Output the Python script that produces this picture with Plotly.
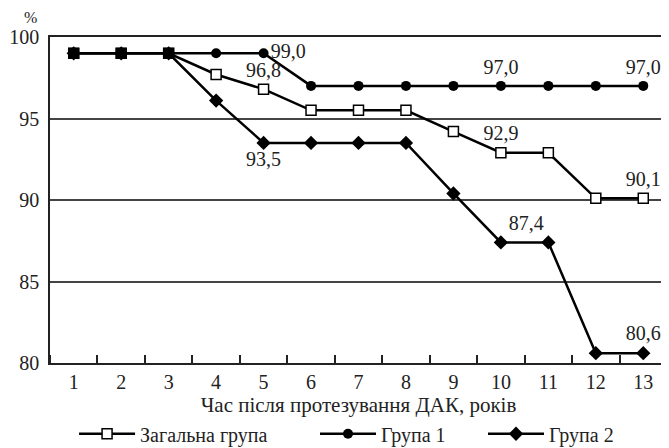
import plotly.graph_objects as go

years = list(range(1, 14))
tick_labels = [str(v) for v in years]

general = [99.0, 99.0, 99.0, 97.7, 96.8, 95.5, 95.5, 95.5, 94.2, 92.9, 92.9, 90.1, 90.1]
group1 = [99.0, 99.0, 99.0, 99.0, 99.0, 97.0, 97.0, 97.0, 97.0, 97.0, 97.0, 97.0, 97.0]
group2 = [99.0, 99.0, 99.0, 96.1, 93.5, 93.5, 93.5, 93.5, 90.4, 87.4, 87.4, 80.6, 80.6]

general_text = ["", "", "", "", "96,8", "", "", "", "", "92,9", "", "", "90,1"]
group1_text = ["", "", "", "", "99,0", "", "", "", "", "97,0", "", "", "97,0"]
group2_text = ["", "", "", "", "93,5", "", "", "", "", "87,4", "", "", "80,6"]

names = ["Загальна група", "Група 1", "Група 2"]
shared_start = 3  # first points common to all groups

FONT = "Liberation Serif"
TXT = "#222"

def pos(texts, default, special=None):
    return [special.get(i, default) if special else default for i in range(len(texts))]

fig = go.Figure()

fig.add_trace(go.Scatter(
    x=years, y=group1, name=names[1], mode="lines+markers+text",
    text=group1_text, textposition=pos(group1_text, "top center", {4: "middle right"}), cliponaxis=False,
    textfont=dict(family=FONT, size=20, color=TXT),
    line=dict(color="black", width=2.5),
    marker=dict(symbol="circle", size=10, color="black"),
    legend="legend2",
))
fig.add_trace(go.Scatter(
    x=years, y=group2, name=names[2], mode="lines+markers+text",
    text=group2_text, textposition=pos(group2_text, "top center", {4: "bottom center", 9: "top right"}), cliponaxis=False,
    textfont=dict(family=FONT, size=20, color=TXT),
    line=dict(color="black", width=2.5),
    marker=dict(symbol="diamond", size=11, color="black"),
    legend="legend3",
))
fig.add_trace(go.Scatter(
    x=years, y=general, name=names[0], mode="lines+markers+text",
    text=general_text, textposition="top center", cliponaxis=False,
    textfont=dict(family=FONT, size=20, color=TXT),
    line=dict(color="black", width=2.5),
    marker=dict(symbol="square", size=10, color="white", line=dict(color="black", width=1.5)),
    legend="legend",
))
# overlapping common start points appear as solid squares
fig.add_trace(go.Scatter(
    x=years[:shared_start], y=general[:shared_start], mode="markers", showlegend=False,
    marker=dict(symbol="square", size=11, color="black"), hoverinfo="skip", cliponaxis=False,
))

leg_common = dict(orientation="h", y=-0.217, yanchor="middle", xanchor="left",
                  bgcolor="rgba(0,0,0,0)", itemwidth=56,
                  font=dict(family=FONT, size=20, color=TXT))

fig.update_layout(
    width=661, height=440,
    margin=dict(l=42, r=2, t=29, b=85, autoexpand=False),
    paper_bgcolor="white", plot_bgcolor="white",
    font=dict(family=FONT, size=20, color=TXT),
    showlegend=True,
    legend=dict(x=0.039, **leg_common),
    legend2=dict(x=0.4295, **leg_common),
    legend3=dict(x=0.7018, **leg_common),
    annotations=[dict(text="%", xref="paper", yref="paper", x=-0.0324, y=1.061,
                      xanchor="center", yanchor="middle", borderpad=0,
                      showarrow=False, font=dict(family=FONT, size=16, color=TXT))],
)

fig.update_xaxes(
    range=[0.5, 13.5], tickvals=years, ticktext=tick_labels,
    showgrid=False, zeroline=False, showline=True, linecolor="#222", linewidth=1.5, mirror=True,
    ticks="", tickfont=dict(family=FONT, size=20, color=TXT),
    minor=dict(ticks="inside", ticklen=8, tickwidth=1.5, tickcolor="#222", tick0=0.5, dtick=1, showgrid=False),
    title=dict(text="Час після протезування ДАК, років", font=dict(family=FONT, size=21, color=TXT), standoff=4),
)
fig.update_yaxes(
    range=[80, 100], tickvals=[80, 85, 90, 95, 100],
    showgrid=True, gridcolor="#444", gridwidth=1.5, zeroline=False,
    showline=True, linecolor="#222", linewidth=1.5, mirror=True,
    ticks="", ticklabelstandoff=5, tickfont=dict(family=FONT, size=20, color=TXT),
)

fig.write_html("out.html")
